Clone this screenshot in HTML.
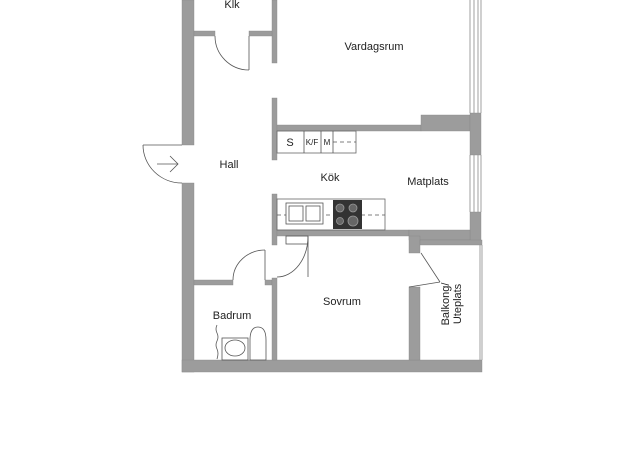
<!DOCTYPE html>
<html><head><meta charset="utf-8"><style>
html,body{margin:0;padding:0;background:#fff;}
svg{display:block;}
text{font-family:"Liberation Sans",sans-serif;font-size:11px;fill:#222;}
</style></head><body>
<svg width="625" height="460" viewBox="0 0 625 460">
<g fill="#9c9c9c" stroke="#888" stroke-width="0.4">
<rect x="182" y="0" width="12" height="145"/>
<rect x="182" y="183" width="12" height="189"/>
<rect x="182" y="360" width="300" height="12"/>
<rect x="272" y="0" width="5" height="63"/>
<rect x="194" y="31" width="21" height="5"/>
<rect x="249" y="31" width="23" height="5"/>
<rect x="272" y="98" width="5" height="62"/>
<rect x="277" y="125" width="144" height="6"/>
<rect x="421" y="115" width="49" height="16"/>
<rect x="470" y="113" width="11" height="42"/>
<rect x="470" y="212" width="11" height="30"/>
<rect x="272" y="194" width="5" height="51"/>
<rect x="277" y="230" width="132" height="6"/>
<rect x="409" y="230" width="61" height="10"/>
<rect x="409" y="236" width="11" height="17"/>
<rect x="409" y="287" width="11" height="73"/>
<rect x="420" y="240" width="62" height="5"/>
<rect x="194" y="280" width="39" height="5"/>
<rect x="265" y="280" width="7" height="5"/>
<rect x="272" y="278" width="5" height="82"/>
</g>
<g fill="none" stroke="#555" stroke-width="0.8">
<g stroke="#888">
<line x1="470" y1="0" x2="470" y2="113"/><line x1="474" y1="0" x2="474" y2="113"/><line x1="478" y1="0" x2="478" y2="113"/><line x1="481" y1="0" x2="481" y2="113"/>
<line x1="470" y1="155" x2="470" y2="212"/><line x1="474" y1="155" x2="474" y2="212"/><line x1="478" y1="155" x2="478" y2="212"/><line x1="481" y1="155" x2="481" y2="212"/>
<line x1="480" y1="245" x2="480" y2="360"/><line x1="482" y1="245" x2="482" y2="360"/>
</g>
<line x1="143" y1="145" x2="182" y2="145"/><path d="M143 145 A39 38 0 0 0 182 183"/>
<line x1="157" y1="164" x2="178" y2="164"/><path d="M170 156 L178 164 L170 172"/>
<line x1="249" y1="36" x2="249" y2="70"/><path d="M215 36 A34 34 0 0 0 249 70"/>
<line x1="265" y1="250" x2="265" y2="280"/><path d="M233 280 A32 30 0 0 1 265 250"/>
<line x1="308" y1="236" x2="308" y2="277"/><path d="M308 236 A31 41 0 0 1 277 277" />
<line x1="421" y1="253" x2="440" y2="282"/><path d="M440 282 L409 287"/>
<rect x="277" y="131" width="79" height="22" stroke="#666"/>
<line x1="304" y1="131" x2="304" y2="153"/><line x1="321" y1="131" x2="321" y2="153"/><line x1="333" y1="131" x2="333" y2="153"/>
<line x1="333" y1="142" x2="356" y2="142" stroke-dasharray="4 3"/>
<rect x="277" y="199" width="108" height="31" stroke="#666"/>
<line x1="277" y1="215" x2="385" y2="215" stroke-dasharray="4 3"/>
<rect x="286" y="203" width="37" height="21" fill="#fff"/>
<rect x="289" y="206" width="14" height="15"/><rect x="306" y="206" width="14" height="15"/>
<rect x="286" y="236" width="22" height="8"/>
<rect x="222" y="338" width="26" height="22"/>
<ellipse cx="235" cy="348" rx="10" ry="8"/>
<path d="M250 340 Q250 327 258 327 Q266 327 266 340 L266 360 L250 360 Z"/>
<path d="M217 325 q-2 4 0 8 q2 4 0 8 q-2 4 0 8 q2 4 0 10"/>
</g>
<rect x="333" y="200" width="29" height="29" fill="#333"/>
<g fill="#666" stroke="#999" stroke-width="0.8">
<circle cx="340" cy="208" r="4"/><circle cx="353" cy="208" r="4"/><circle cx="340" cy="221" r="3.5"/><circle cx="353" cy="221" r="5"/>
</g>
<text x="232" y="8" text-anchor="middle">Klk</text>
<text x="374" y="50" text-anchor="middle">Vardagsrum</text>
<text x="229" y="168" text-anchor="middle">Hall</text>
<text x="290" y="146" text-anchor="middle">S</text>
<text x="312" y="145" text-anchor="middle" style="font-size:8px">K/F</text>
<text x="327" y="145" text-anchor="middle" style="font-size:8px">M</text>
<text x="330" y="181" text-anchor="middle">Kök</text>
<text x="428" y="185" text-anchor="middle">Matplats</text>
<text x="342" y="305" text-anchor="middle">Sovrum</text>
<text x="232" y="319" text-anchor="middle">Badrum</text>
<text transform="translate(449,304) rotate(-90)" text-anchor="middle">Balkong/</text>
<text transform="translate(461,304) rotate(-90)" text-anchor="middle">Uteplats</text>
</svg>
</body></html>
